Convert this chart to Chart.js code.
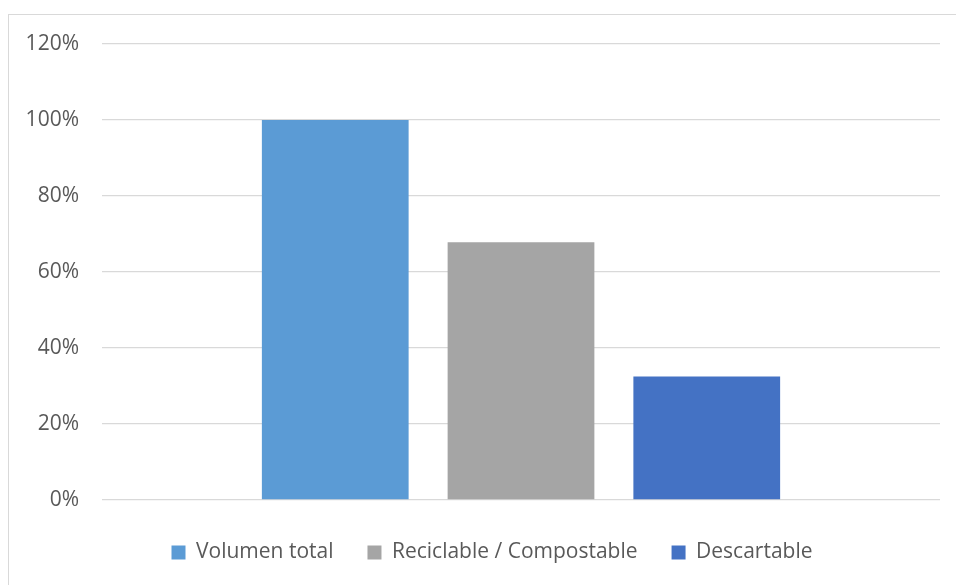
<!DOCTYPE html>
<html>
<head>
<meta charset="utf-8">
<script src="https://cdn.jsdelivr.net/npm/chart.js@4/dist/chart.umd.min.js"></script>
<style>
  html, body { margin: 0; padding: 0; background: #ffffff; }
  body { width: 956px; height: 585px; position: relative; overflow: hidden; }
  #frame {
    position: absolute; left: 8px; top: 14px; width: 1000px; height: 700px;
    border: 1px solid #d9d9d9; box-sizing: border-box;
  }
  #wrap { position: absolute; left: 0; top: 0; width: 956px; height: 585px; }
</style>
</head>
<body>
<div id="frame"></div>
<div id="wrap"><canvas id="c" width="956" height="585"></canvas></div>
<script>
// Share of waste volume by type (percent)
const categories = [''];
const seriesNames = ['Volumen total', 'Reciclable / Compostable', 'Descartable'];
const volumenTotal = [100];
const reciclable = [67.8];
const descartable = [32.5];
const yTicks = [0, 20, 40, 60, 80, 100, 120];

const colors = ['#5B9BD5', '#A5A5A5', '#4472C4'];
const seriesValues = [volumenTotal, reciclable, descartable];

const FONT = "'Open Sans', 'Liberation Sans', sans-serif";
const TEXT = '#595959';

// The legend sits centred on the full chart frame, which runs past the right edge
const legendShift = {
  id: 'legendShift',
  afterLayout(chart) {
    chart.legend.left += 17;
    chart.legend.right += 17;
  }
};

new Chart(document.getElementById('c'), {
  type: 'bar',
  data: {
    labels: categories,
    datasets: seriesNames.map((name, i) => ({
      label: name,
      data: seriesValues[i],
      backgroundColor: colors[i],
      borderWidth: 0,
      categoryPercentage: 0.665,
      barPercentage: 0.79
    }))
  },
  plugins: [legendShift],
  options: {
    responsive: false,
    animation: false,
    devicePixelRatio: 1,
    layout: { padding: { left: 10, right: 16, top: 44, bottom: 12 } },
    plugins: {
      tooltip: { enabled: false },
      legend: {
        position: 'bottom',
        labels: {
          boxWidth: 14,
          boxHeight: 14,
          padding: 34,
          color: TEXT,
          font: { family: FONT, size: 21 }
        }
      }
    },
    scales: {
      x: {
        grid: { display: false },
        border: { display: false },
        ticks: { display: false }
      },
      y: {
        min: 0,
        max: 120,
        afterBuildTicks: (scale) => { scale.ticks = yTicks.map(v => ({ value: v })); },
        afterFit: (scale) => { scale.width = 92; },
        grid: { color: '#d9d9d9', lineWidth: 1.3, drawTicks: false },
        border: { display: false },
        ticks: {
          padding: 23,
          color: TEXT,
          font: { family: FONT, size: 21 },
          callback: (v) => v + '%'
        }
      }
    }
  }
});
</script>
</body>
</html>
